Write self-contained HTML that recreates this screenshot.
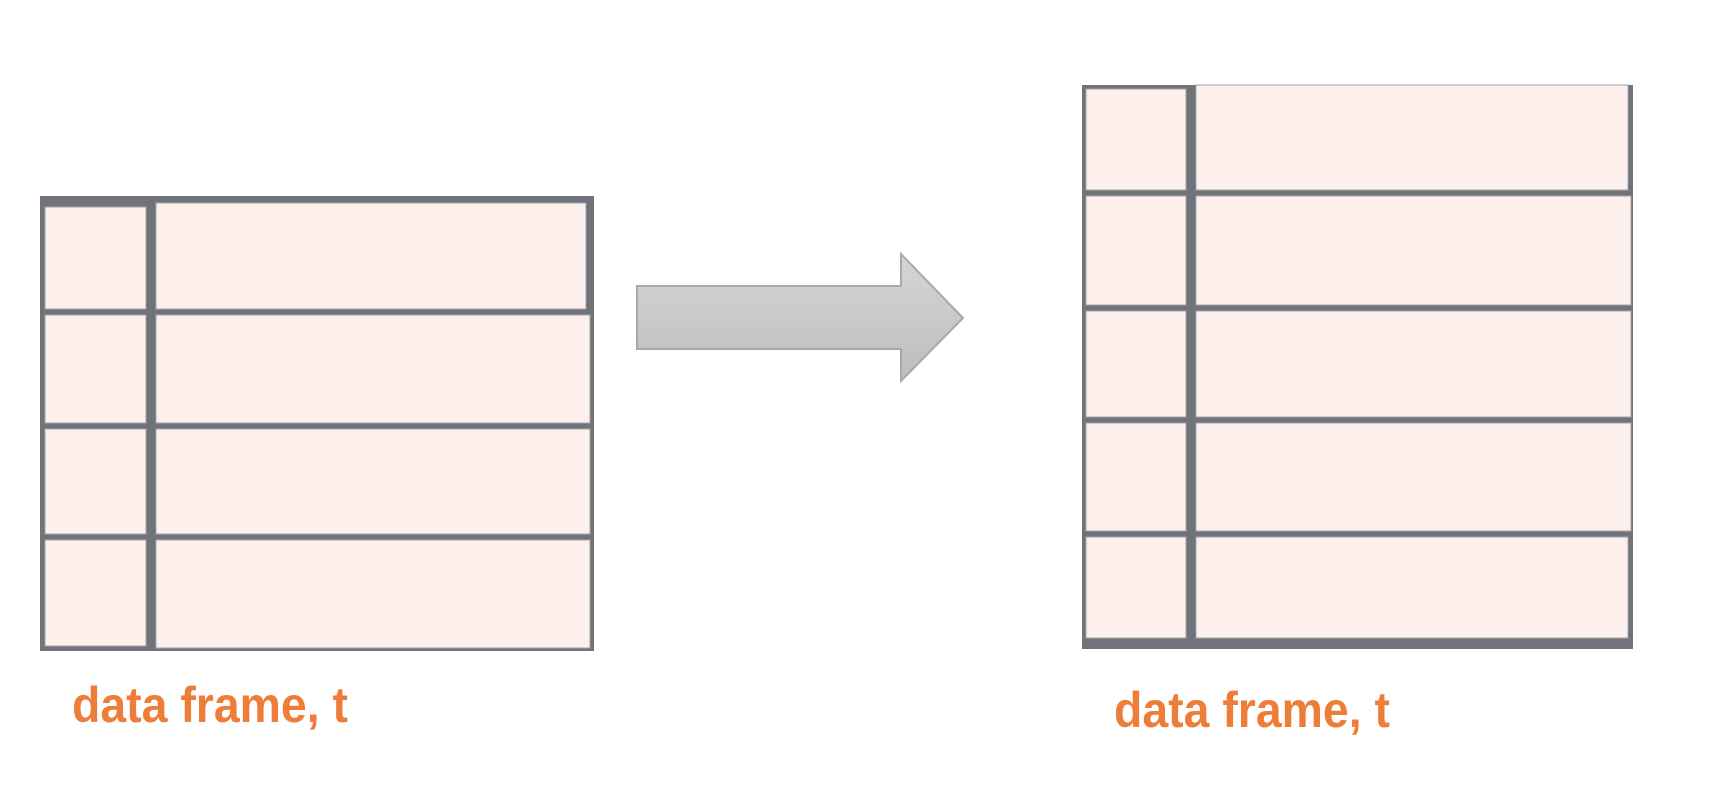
<!DOCTYPE html>
<html><head><meta charset="utf-8"><style>html,body{margin:0;padding:0;background:#fff;width:1730px;height:794px;overflow:hidden}</style></head>
<body>
<svg width="1730" height="794" viewBox="0 0 1730 794">
<defs><linearGradient id="ag" x1="0" y1="0" x2="0" y2="1"><stop offset="0" stop-color="#d6d6d6"/><stop offset="1" stop-color="#bdbdbd"/></linearGradient></defs>
<g>
<rect x="40" y="196" width="554" height="455" fill="#707379"/>
<g fill="#fdefec" stroke="#a8a4a6" stroke-width="1">
<rect x="45" y="207" width="101" height="102"/><rect x="156" y="203" width="430" height="106"/>
<rect x="45" y="315" width="101" height="108"/><rect x="156" y="315" width="434" height="108"/>
<rect x="45" y="429" width="101" height="105"/><rect x="156" y="429" width="434" height="105"/>
<rect x="45" y="540" width="101" height="106"/><rect x="156" y="540" width="434" height="108"/>
</g></g>
<text x="72" y="722" font-family="Liberation Sans, sans-serif" font-weight="bold" font-size="50" fill="#ee7d3a" textLength="276" lengthAdjust="spacingAndGlyphs">data frame, t</text>
<polygon points="637,286 901,286 901,254 963,318 901,381 901,349 637,349" fill="url(#ag)" stroke="#a9a9a9" stroke-width="2"/>
<g>
<rect x="1082" y="85" width="551" height="564" fill="#707379"/>
<g fill="#fdefec" stroke="#a8a4a6" stroke-width="1">
<rect x="1086" y="89" width="100" height="101"/><rect x="1196" y="85" width="432" height="105"/>
<rect x="1086" y="196" width="100" height="109"/><rect x="1196" y="196" width="435" height="109"/>
<rect x="1086" y="311" width="100" height="106"/><rect x="1196" y="311" width="435" height="106"/>
<rect x="1086" y="423" width="100" height="108"/><rect x="1196" y="423" width="435" height="108"/>
<rect x="1086" y="537" width="100" height="101"/><rect x="1196" y="537" width="432" height="101"/>
</g></g>
<text x="1114" y="727" font-family="Liberation Sans, sans-serif" font-weight="bold" font-size="50" fill="#ee7d3a" textLength="276" lengthAdjust="spacingAndGlyphs">data frame, t</text>
</svg>
</body></html>
